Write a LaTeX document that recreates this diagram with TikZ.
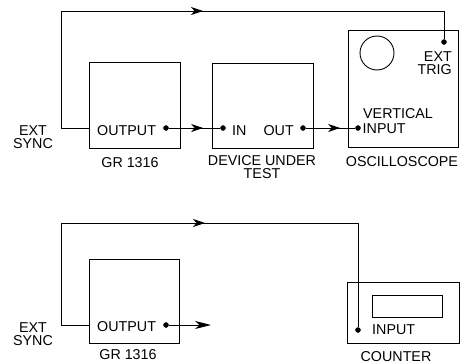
\documentclass[tikz,border=0pt]{standalone}
\usepackage{fontspec}
\setmainfont{Liberation Sans}
\usetikzlibrary{arrows.meta,decorations.markings}
\begin{document}
\begin{tikzpicture}[x=1pt,y=-1pt,
  every node/.style={inner sep=0pt,font=\fontsize{14.3}{12.8}\selectfont},
  box/.style={draw,line width=1pt,anchor=north west},
  jack/.style={circle,draw,fill,minimum size=5pt,inner sep=0pt},
  wire/.style={line width=0.9pt},
  midarrow/.style={postaction={decorate},decoration={markings,mark=at position #1 with {\arrow{Stealth[length=12pt,width=8pt,inset=3.5pt]}}}}]
\useasboundingbox (0,0) rectangle (466,364);

% ---------- top set-up ----------
\node[box,minimum width=91pt,minimum height=86pt] (gr1) at (89,62) {};
\node[box,minimum width=101pt,minimum height=85pt] (dut) at (212,63) {};
\node[box,minimum width=110pt,minimum height=117pt] (osc) at (348,30) {};
\node[draw,circle,line width=0.9pt,minimum size=34pt] (crt) at (377,53) {};

\node[jack] (gr1out) at (166,128) {};
\node[jack] (dutin) at (223,128) {};
\node[jack] (dutout) at (303,128) {};
\node[jack] (oscin) at (358,128) {};
\node[jack] (trig) at (444,42) {};

\node[anchor=west] (t1) at (97,131) {OUTPUT};
\node[anchor=west] (t2) at (232,131) {IN};
\node[anchor=east] (t3) at (294,131) {OUT};
\node[anchor=west] (t4) at (363,114) {VERTICAL};
\node[anchor=west] (t5) at (362.5,129) {INPUT};
\node[anchor=east,align=right] (t6) at (452,63) {EXT\\TRIG};
\node[align=center] (t7) at (33,137.5) {EXT\\SYNC};
\node (l1) at (130,163) {GR 1316};
\node[align=center] (l2) at (262,167) {DEVICE UNDER\\TEST};
\node (l3) at (402,162) {OSCILLOSCOPE};

\coordinate (sync1) at (89,128);
\coordinate (c1) at (61,128);
\coordinate (c2) at (61,11);
\coordinate (c3) at (444,11);

\draw[wire,midarrow=34.5pt] (gr1out) -- (dutin);
\draw[wire,midarrow=34.5pt] (dutout) -- (oscin);
\draw[wire,midarrow=287pt] (sync1) -- (c1) -- (c2) -- (c3) -- (trig);

% ---------- bottom set-up ----------
\node[box,minimum width=90pt,minimum height=84pt] (gr2) at (89,259) {};
\node[box,minimum width=112pt,minimum height=61pt] (cnt) at (347,282) {};
\node[draw,line width=0.9pt,anchor=north west,minimum width=70pt,minimum height=22pt] (disp) at (372,295) {};

\node[jack] (gr2out) at (166,325) {};
\node[jack] (cntin) at (358,330) {};
\coordinate (free) at (211,325);

\node[anchor=west] (b1) at (97,327) {OUTPUT};
\node[anchor=west] (b2) at (372,330) {INPUT};
\node[align=center] (b3) at (33,334) {EXT\\SYNC};
\node (b4) at (128,355) {GR 1316};
\node (b5) at (396,357) {COUNTER};

\coordinate (sync2) at (89,325);
\coordinate (c4) at (61,325);
\coordinate (c5) at (61,223);
\coordinate (c6) at (358,223);

\draw[wire,-{Stealth[length=16pt,width=8pt,inset=4.5pt]}] (gr2out) -- (free);
\draw[wire,midarrow=274pt] (sync2) -- (c4) -- (c5) -- (c6) -- (cntin);
\end{tikzpicture}
\end{document}
